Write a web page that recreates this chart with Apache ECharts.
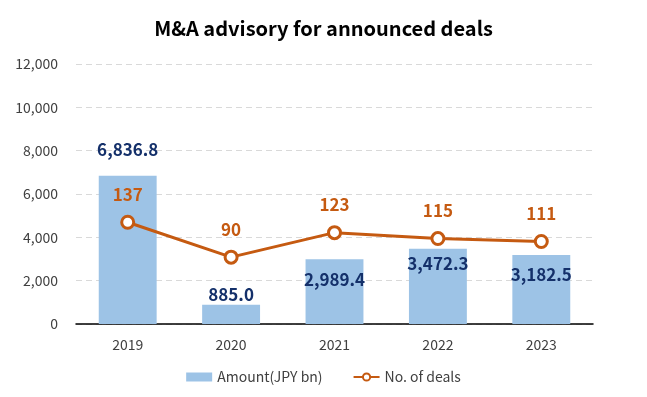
<!DOCTYPE html>
<html lang="en">
<head>
    <meta charset="UTF-8">
    <title>M&amp;A advisory</title>
    <script src="https://cdn.jsdelivr.net/npm/echarts@6/dist/echarts.min.js"></script>
    <style>
        html, body { margin: 0; padding: 0; background: #fff; }
    </style>
</head>
<body>
<div id="main" style="width: 647px;height:397px;"></div>
<script type="text/javascript">
    var years = ['2019', '2020', '2021', '2022', '2023'];
    var amounts = [6836.8, 885.0, 2989.4, 3472.3, 3182.5];
    var deals = [137, 90, 123, 115, 111];
    var yTicks = [0, 2000, 4000, 6000, 8000, 10000, 12000];

    // bar label offsets so they don't collide with the line labels
    var barLabelOffsets = [[0, -14], [0, 2], [0, 33], [0, 27], [0, 32]];

    var font = '"Noto Sans CJK JP", "Noto Sans", sans-serif';
    var myChart = echarts.init(document.getElementById('main'));

    var option = {
        textStyle: { fontFamily: font },
        title: {
            text: 'M&A advisory for announced deals',
            left: 'center',
            top: 13,
            textStyle: { fontFamily: font, fontSize: 20, fontWeight: 'bold', color: '#000' }
        },
        legend: {
            bottom: 8,
            left: 'center',
            itemGap: 30,
            itemWidth: 26,
            itemHeight: 9,
            textStyle: { fontFamily: font, fontSize: 14, color: '#404040' },
            data: [
                { name: 'Amount(JPY bn)', icon: 'rect' },
                { name: 'No. of deals' }
            ]
        },
        grid: { left: 76, right: 54, top: 64, bottom: 73 },
        xAxis: {
            type: 'category',
            data: years,
            axisTick: { show: false },
            axisLine: { lineStyle: { color: '#000', width: 1.5 } },
            axisLabel: { color: '#404040', fontSize: 14, margin: 14, fontFamily: font }
        },
        yAxis: [
            {
                type: 'value',
                min: yTicks[0],
                max: yTicks[yTicks.length - 1],
                interval: 2000,
                axisLabel: {
                    color: '#404040', fontSize: 14, margin: 18, fontFamily: font,
                    formatter: function (v) { return v.toLocaleString('en-US'); }
                },
                splitLine: { lineStyle: { color: '#D9D9D9', type: [6, 4] } }
            },
            {
                type: 'value',
                min: 0,
                max: 350,
                show: false,
                splitLine: { show: false }
            }
        ],
        series: [
            {
                name: 'Amount(JPY bn)',
                type: 'bar',
                barWidth: '56%',
                itemStyle: { color: '#9DC3E6' },
                data: amounts.map(function (v, i) {
                    return {
                        value: v,
                        label: { offset: barLabelOffsets[i] }
                    };
                }),
                label: {
                    show: true,
                    position: 'top',
                    distance: 4,
                    color: '#14306A',
                    fontSize: 17,
                    fontWeight: 'bold',
                    fontFamily: font,
                    formatter: function (p) {
                        return p.value.toLocaleString('en-US', { minimumFractionDigits: 1, maximumFractionDigits: 1 });
                    }
                },
                z: 2
            },
            {
                name: 'No. of deals',
                type: 'line',
                yAxisIndex: 1,
                data: deals,
                symbol: 'circle',
                symbolSize: 12,
                lineStyle: { color: '#C55A11', width: 3 },
                itemStyle: { color: '#fff', borderColor: '#C55A11', borderWidth: 3 },
                label: {
                    show: true,
                    position: 'top',
                    distance: 12,
                    color: '#C55A11',
                    fontSize: 17,
                    fontWeight: 'bold',
                    fontFamily: font
                },
                z: 3
            }
        ]
    };

    myChart.setOption(option);
</script>
</body>
</html>
